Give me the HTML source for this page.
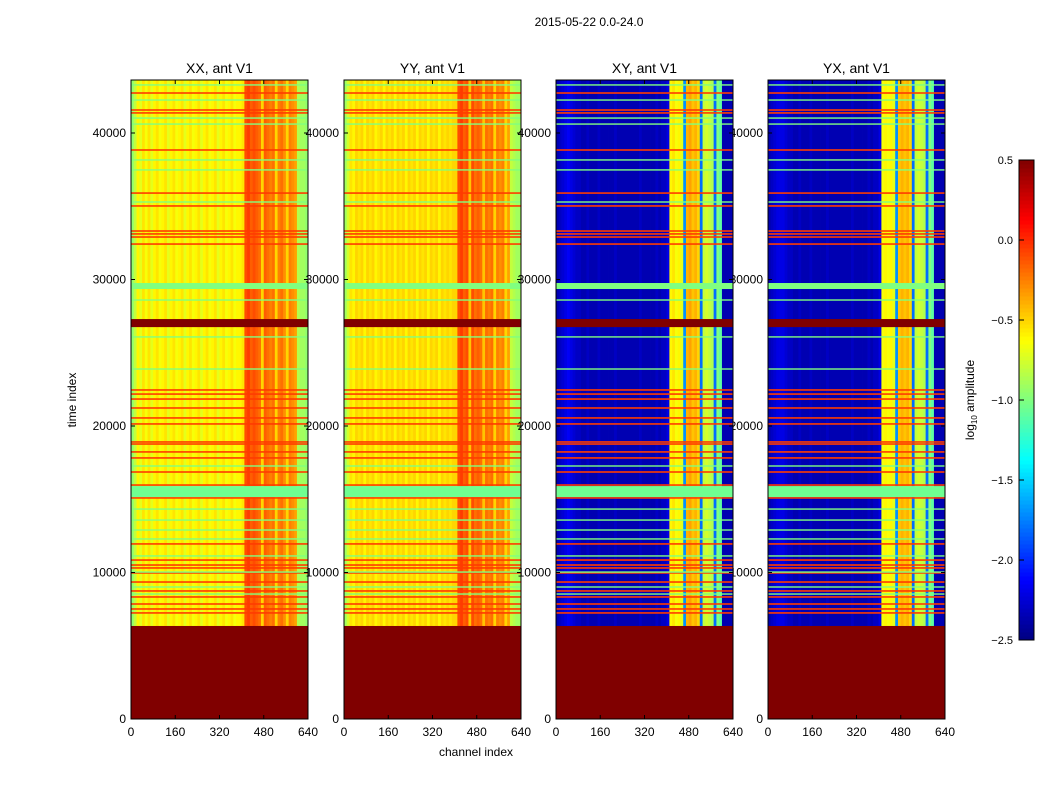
<!DOCTYPE html>
<html><head><meta charset="utf-8"><style>
body{margin:0;background:#fff;}
svg text{font-family:"Liberation Sans",sans-serif;fill:#000;}
</style></head><body>
<svg id="fig" width="1050" height="800" xmlns="http://www.w3.org/2000/svg">
<text x="589" y="26" font-size="12" text-anchor="middle">2015-05-22 0.0-24.0</text>
<text x="476" y="756" font-size="12" text-anchor="middle">channel index</text>
<text transform="translate(76,400) rotate(-90)" font-size="12" text-anchor="middle">time index</text>
<text transform="translate(974,400) rotate(-90)" font-size="12" text-anchor="middle">log<tspan font-size="8" dy="3">10</tspan><tspan dy="-3"> amplitude</tspan></text>
</svg>
<script>
const panelNames=["XX, ant V1","YY, ant V1","XY, ant V1","YX, ant V1"];
const xTicks=[0,160,320,480,640];
const yTicks=[0,10000,20000,30000,40000];
const cbTicks=[0.5,0.0,-0.5,-1.0,-1.5,-2.0,-2.5];
// column profiles (64 columns of 10 channels), log10 amplitude
const colXX=[-0.95,-0.8,-0.6,-0.7,-0.55,-0.65,-0.55,-0.7,-0.6,-0.55,-0.65,-0.6,-0.55,-0.7,-0.6,-0.55,-0.65,-0.6,-0.55,-0.7,-0.6,-0.55,-0.65,-0.6,-0.55,-0.7,-0.6,-0.55,-0.65,-0.6,-0.55,-0.7,-0.6,-0.55,-0.65,-0.6,-0.55,-0.65,-0.6,-0.6,-0.55,-0.1,-0.05,-0.15,-0.1,-0.15,-0.2,-0.5,-0.15,-0.2,-0.25,-0.2,-0.5,-0.25,-0.2,-0.3,-0.5,-0.25,-0.3,-0.35,-0.85,-0.9,-0.9,-0.95];
const colYY=[-0.9,-0.75,-0.55,-0.6,-0.5,-0.55,-0.5,-0.6,-0.5,-0.55,-0.5,-0.6,-0.55,-0.5,-0.6,-0.5,-0.55,-0.5,-0.6,-0.5,-0.55,-0.5,-0.6,-0.5,-0.55,-0.5,-0.6,-0.5,-0.55,-0.5,-0.6,-0.5,-0.55,-0.5,-0.6,-0.5,-0.55,-0.5,-0.55,-0.5,-0.5,-0.1,-0.05,-0.15,-0.1,-0.45,-0.1,-0.2,-0.15,-0.2,-0.45,-0.2,-0.25,-0.2,-0.5,-0.25,-0.3,-0.25,-0.5,-0.35,-0.8,-0.85,-0.9,-0.9];
const colXY=[-2.35,-2.3,-2.25,-2.2,-2.15,-2.2,-2.25,-2.3,-2.3,-2.35,-2.35,-2.3,-2.35,-2.35,-2.35,-2.3,-2.35,-2.35,-2.35,-2.35,-2.35,-2.3,-2.35,-2.35,-2.35,-2.35,-2.35,-2.35,-2.35,-2.35,-2.3,-2.35,-2.35,-2.35,-2.35,-2.35,-2.3,-2.35,-2.3,-2.3,-2.2,-0.6,-0.55,-0.65,-0.6,-0.7,-1.7,-0.4,-0.35,-0.45,-0.4,-0.5,-1.8,-0.8,-0.75,-0.8,-0.85,-1.8,-1.0,-1.1,-2.35,-2.35,-2.35,-2.35];
const colYX=[-2.35,-2.3,-2.25,-2.2,-2.2,-2.2,-2.25,-2.3,-2.3,-2.35,-2.35,-2.3,-2.35,-2.35,-2.35,-2.3,-2.35,-2.35,-2.35,-2.35,-2.35,-2.3,-2.35,-2.35,-2.35,-2.35,-2.35,-2.35,-2.35,-2.35,-2.3,-2.35,-2.35,-2.35,-2.35,-2.35,-2.3,-2.35,-2.3,-2.3,-2.2,-0.65,-0.6,-0.65,-0.6,-0.7,-1.7,-0.45,-0.4,-0.45,-0.4,-0.5,-1.8,-0.8,-0.75,-0.8,-0.85,-1.8,-1.0,-1.1,-2.35,-2.35,-2.35,-2.35];
// flagged time rows
const redRows=[42730,41570,41370,38840,35900,35020,33310,33110,32900,32420,22460,22180,21840,21230,20550,20140,18910,18770,18230,17820,16860,15970,15090,11950,10850,10510,10310,9970,9350,8740,8330,7850,7510,7240];
const greenRows=[43280,42250,41020,40610,38160,37480,35290,28600,26080,23890,17270,14330,13580,12900,12290,11130,10030,9010,8530,2730];
// bands: start, end, value
const bandStart=[0,26750,29350,15150];
const bandEnd=[6350,27300,29760,15900];
const bandVal=[0.5,0.5,-1.0,-1.05];
const tMax=43600, chMax=640;

const svg=document.getElementById('fig');
const NS="http://www.w3.org/2000/svg";
function jet(v){let x=(v+2.5)/3;x=Math.max(0,Math.min(1,x));
 const c=a=>Math.round(255*Math.max(0,Math.min(1,a)));
 return `rgb(${c(1.5-Math.abs(4*x-3))},${c(1.5-Math.abs(4*x-2))},${c(1.5-Math.abs(4*x-1))})`;}
function mk(tag,attrs,parent){const e=document.createElementNS(NS,tag);for(const k in attrs)e.setAttribute(k,attrs[k]);(parent||svg).appendChild(e);return e;}
const panelX=[131,344,556,768], pw=177, yTop=80, yBot=719;
const yScale=t=>yBot-t/10000*146.5;
const cols=[colXX,colYY,colXY,colYX];

function drawLabels(p){
 const x0=panelX[p],xs=c=>x0+c/chMax*pw;
 yTicks.forEach(v=>{const t=mk('text',{x:x0-5,y:yScale(v)+4,'font-size':12,'text-anchor':'end'});t.textContent=v;
  
  });
 xTicks.forEach(v=>{const t=mk('text',{x:xs(v),y:yBot+17,'font-size':12,'text-anchor':'middle'});t.textContent=v;
  
  });
 const ti=mk('text',{x:x0+pw/2,y:73,'font-size':14,'text-anchor':'middle'});ti.textContent=panelNames[p];
 
 
}
function drawPanel(p){
 const x0=panelX[p],xs=c=>x0+c/chMax*pw;
 const g=mk('g',{});
 
 
 const cv=cols[p];
 cv.forEach((v,i)=>{const r=mk('rect',{x:xs(i*10),y:yTop,width:pw/64+0.4,height:yBot-yTop,fill:jet(v)},g);
  
  });
 redRows.forEach(t=>{const r=mk('rect',{x:x0,y:yScale(t)-0.8,width:pw,height:1.6,fill:jet(-0.05)},g);
  
  });
 greenRows.forEach(t=>{const r=mk('rect',{x:x0,y:yScale(t)-0.7,width:pw,height:1.4,fill:jet(-1.0)},g);
  
  });
 bandStart.forEach((s,i)=>{const r=mk('rect',{x:x0,y:yScale(bandEnd[i]),width:pw,height:yScale(s)-yScale(bandEnd[i]),fill:jet(bandVal[i])},g);
  
  });
 mk('rect',{x:x0,y:yTop,width:pw,height:yBot-yTop,fill:'none',stroke:'#000','stroke-width':1},g);
 const tk=[];
 yTicks.forEach(v=>{const y=yScale(v);tk.push(`M${x0},${y}h4M${x0+pw},${y}h-4`);});
 xTicks.forEach(v=>{const x=xs(v);tk.push(`M${x},${yBot}v-4M${x},${yTop}v4`);});
 mk('path',{d:tk.join(''),stroke:'#000','stroke-width':1},g);
}
drawLabels(0);drawPanel(0);
drawLabels(1);drawLabels(3);drawPanel(1);
drawLabels(2);drawPanel(2);drawPanel(3);

// colorbar
const cbx=1019,cbw=15,cbt=160,cbb=640;
const cg=mk('g',{});


for(let i=0;i<120;i++){const v=-2.5+3*(i+0.5)/120;const y=cbb-(i+1)*(cbb-cbt)/120;
 mk('rect',{x:cbx,y:y,width:cbw,height:(cbb-cbt)/120+0.5,fill:jet(v)},cg);}
mk('rect',{x:cbx,y:cbt,width:cbw,height:cbb-cbt,fill:'none',stroke:'#000'},cg);
cbTicks.forEach(v=>{const y=cbb-(v+2.5)/3*(cbb-cbt);
 mk('path',{d:`M${cbx},${y}h5`,stroke:'#000'},cg);
 const t=mk('text',{x:1013,y:y+4,'font-size':11,'text-anchor':'end'},cg);t.textContent=v.toFixed(1).replace('-','\u2212');
 
 });
</script>
</body></html>
